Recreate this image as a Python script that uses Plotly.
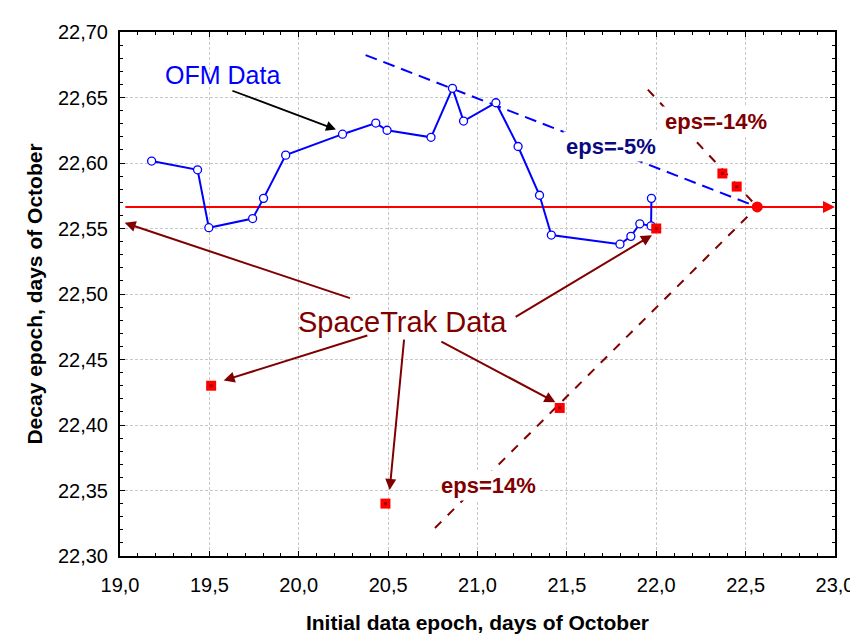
import plotly.graph_objects as go

# ---- data ----
ofm_x = [19.177, 19.434, 19.497, 19.742, 19.803, 19.927, 20.245, 20.431, 20.494, 20.740,
         20.860, 20.922, 21.103, 21.227, 21.347, 21.413, 21.797, 21.858, 21.908, 21.971, 21.973]
ofm_y = [22.6015, 22.5948, 22.5506, 22.5576, 22.5730, 22.6060, 22.6220, 22.6305, 22.6250, 22.6196,
         22.6570, 22.6320, 22.6460, 22.6126, 22.5754, 22.5450, 22.5380, 22.5440, 22.5536, 22.5520, 22.5730]

st_x = [18.95, 19.51, 20.485, 21.46, 22.00, 22.37, 22.45]
st_y = [22.554, 22.430, 22.340, 22.413, 22.550, 22.592, 22.582]

decay_x = [22.565]
decay_y = [22.5665]

ref_line_x = [19.03, 22.95]
ref_line_y = [22.5665, 22.5665]

eps_m5_x = [20.374, 22.565]
eps_m5_y = [22.6824, 22.5665]
eps_p14_x = [20.762, 22.565]
eps_p14_y = [22.3214, 22.5665]
eps_m14_x = [21.953, 22.565]
eps_m14_y = [22.656, 22.5665]

x_ticks = [19.0, 19.5, 20.0, 20.5, 21.0, 21.5, 22.0, 22.5, 23.0]
y_ticks = [22.30, 22.35, 22.40, 22.45, 22.50, 22.55, 22.60, 22.65, 22.70]

DARKRED = "#800000"
BLUE = "#0000ff"
NAVY = "#0a0a80"
FONT = "Liberation Sans, Arial, sans-serif"

fig = go.Figure()

# eps lines
fig.add_trace(go.Scatter(x=eps_m5_x, y=eps_m5_y, mode="lines",
                         line=dict(color=BLUE, width=2, dash="12px,7px"), hoverinfo="skip"))
fig.add_trace(go.Scatter(x=eps_p14_x, y=eps_p14_y, mode="lines",
                         line=dict(color=DARKRED, width=2, dash="9px,9px"), hoverinfo="skip"))
fig.add_trace(go.Scatter(x=eps_m14_x, y=eps_m14_y, mode="lines",
                         line=dict(color=DARKRED, width=2, dash="9px,9px"), hoverinfo="skip"))

# reference horizontal line
fig.add_trace(go.Scatter(x=ref_line_x, y=ref_line_y, mode="lines",
                         line=dict(color="#ff0000", width=2), hoverinfo="skip"))

# OFM data
fig.add_trace(go.Scatter(x=ofm_x, y=ofm_y, mode="lines+markers",
                         line=dict(color=BLUE, width=2),
                         marker=dict(symbol="circle", size=8, color="white",
                                     line=dict(color=BLUE, width=1.3))))

# SpaceTrak data
fig.add_trace(go.Scatter(x=st_x, y=st_y, mode="markers", cliponaxis=False,
                         marker=dict(symbol="square", size=10, color="#ff0000",
                                     line=dict(width=0))))
fig.add_trace(go.Scatter(x=st_x, y=st_y, mode="markers", cliponaxis=False,
                         marker=dict(symbol="square", size=3, color="#a00000",
                                     line=dict(width=0))))

# decay point
fig.add_trace(go.Scatter(x=decay_x, y=decay_y, mode="markers", cliponaxis=False,
                         marker=dict(symbol="circle", size=11, color="#ff0000",
                                     line=dict(width=0))))

ann = []
# arrowhead on reference line
ann.append(dict(x=23.0, y=ref_line_y[0], ax=22.85, ay=ref_line_y[0], xref="x", yref="y",
                axref="x", ayref="y", showarrow=True, arrowhead=2, arrowsize=1.2,
                arrowwidth=2, arrowcolor="#ff0000", text=""))

# SpaceTrak arrows (head -> tail)
st_arrows = [
    (19.026, 22.5543, 20.2947, 22.4965),
    (19.580, 22.4340, 20.3920, 22.4687),
    (20.5086, 22.3504, 20.5900, 22.4663),
    (21.436, 22.4174, 20.7895, 22.4643),
    (21.976, 22.5449, 21.2050, 22.4819),
]
for hx, hy, tx, ty in st_arrows:
    ann.append(dict(x=hx, y=hy, ax=tx, ay=ty, xref="x", yref="y", axref="x", ayref="y",
                    showarrow=True, arrowhead=2, arrowsize=1.1, arrowwidth=2,
                    arrowcolor=DARKRED, text="", standoff=0))
# OFM arrow
ann.append(dict(x=20.208, y=22.6256, ax=19.6205, ay=22.6556, xref="x", yref="y",
                axref="x", ayref="y", showarrow=True, arrowhead=2, arrowsize=1.1,
                arrowwidth=1.8, arrowcolor="black", text=""))

# texts
ann.append(dict(x=19.571, y=22.6675, xref="x", yref="y", text="OFM Data", showarrow=False,
                font=dict(family=FONT, size=25, color=BLUE)))
ann.append(dict(x=20.582, y=22.479, xref="x", yref="y", text="SpaceTrak Data", showarrow=False,
                font=dict(family=FONT, size=29, color=DARKRED)))
ann.append(dict(x=21.748, y=22.6124, xref="x", yref="y", text="<b>eps=-5%</b>", showarrow=False,
                bgcolor="white", borderpad=2,
                font=dict(family=FONT, size=22, color=NAVY)))
ann.append(dict(x=22.335, y=22.632, xref="x", yref="y", text="<b>eps=-14%</b>", showarrow=False,
                bgcolor="white", borderpad=2,
                font=dict(family=FONT, size=22, color=DARKRED)))
ann.append(dict(x=21.061, y=22.354, xref="x", yref="y", text="<b>eps=14%</b>", showarrow=False,
                bgcolor="white", borderpad=2,
                font=dict(family=FONT, size=22, color=DARKRED)))

axis_common = dict(
    showline=True, linecolor="black", linewidth=2, mirror="allticks",
    ticks="inside", ticklen=5, tickwidth=1, tickcolor="black",
    showgrid=True, gridcolor="#c8c8c8", gridwidth=1, griddash="3px,2px",
    zeroline=False,
    tickfont=dict(family=FONT, size=20, color="black"),
)

fig.update_layout(
    width=858, height=635,
    margin=dict(l=112, r=24, t=24, b=73),
    paper_bgcolor="white", plot_bgcolor="white",
    showlegend=False,
    separators=", ",
    annotations=ann,
    xaxis=dict(axis_common, range=[19.0, 23.0], tickvals=x_ticks, tickformat=".1f",
               minor=dict(dtick=0.1, ticks="inside", ticklen=3, tickcolor="black", showgrid=False),
               ticklabelstandoff=10,
               title=dict(text="<b>Initial data epoch, days of October</b>", standoff=20,
                          font=dict(family=FONT, size=21, color="black"))),
    yaxis=dict(axis_common, range=[22.30, 22.70], tickvals=y_ticks, tickformat=".2f",
               minor=dict(dtick=0.01, ticks="inside", ticklen=3, tickcolor="black", showgrid=False),
               ticklabelstandoff=6,
               title=dict(text="<b>Decay epoch, days of October</b>", standoff=10,
                          font=dict(family=FONT, size=21, color="black"))),
)

fig.write_html("out.html")
